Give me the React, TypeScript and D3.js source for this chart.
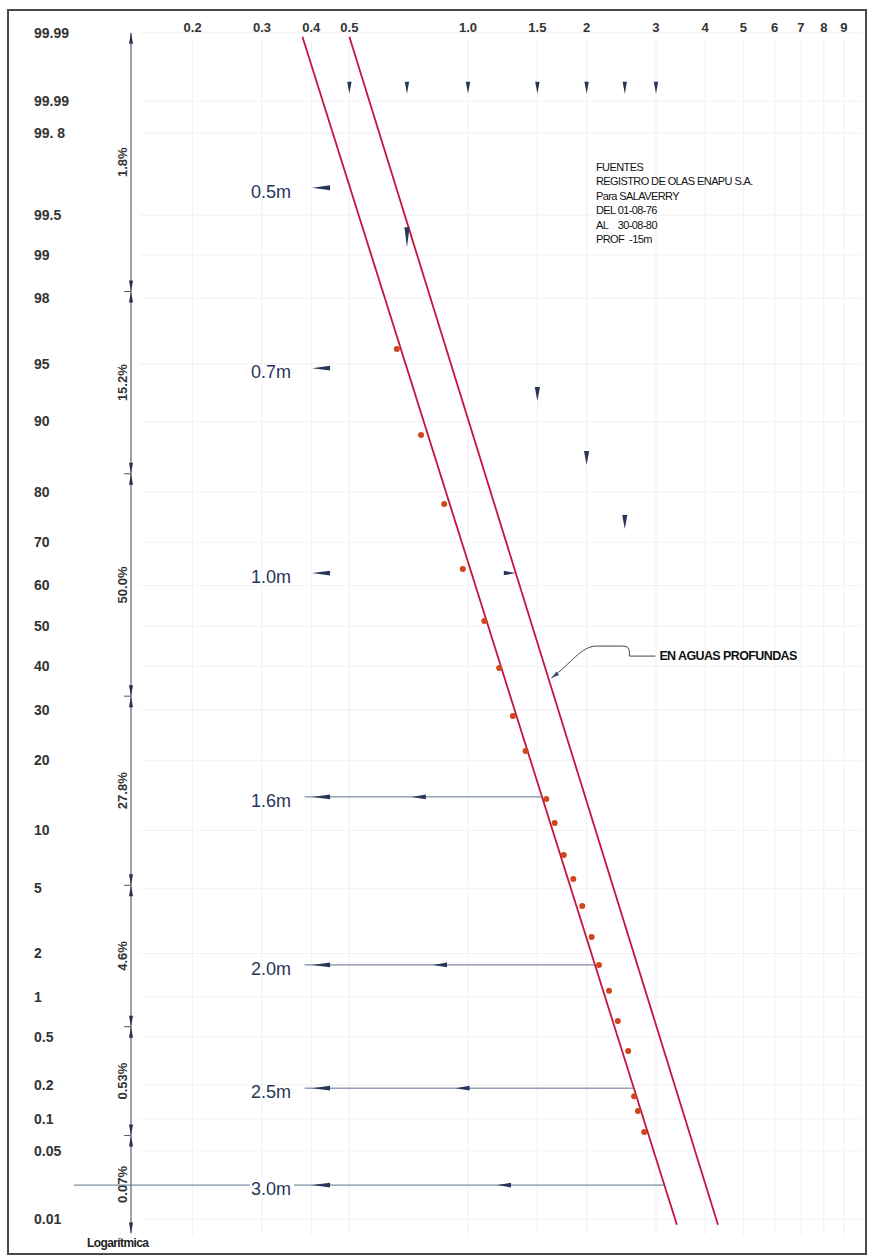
import React from "react";
import * as d3 from "d3";

// wave height (m) on log x, cumulative probability (%) on normal-probability y
const xTicks = [0.2, 0.3, 0.4, 0.5, 1.0, 1.5, 2, 3, 4, 5, 6, 7, 8, 9];
const xTickLabels = ["0.2", "0.3", "0.4", "0.5", "1.0", "1.5", "2", "3", "4", "5", "6", "7", "8", "9"];

const yTicks = [99.99, 99.95, 99.9, 99.5, 99, 98, 95, 90, 80, 70, 60, 50, 40, 30, 20, 10, 5, 2, 1, 0.5, 0.2, 0.1, 0.05, 0.01];
const yTickLabels = ["99.99", "99.99", "99. 8", "99.5", "99", "98", "95", "90", "80", "70", "60", "50", "40", "30", "20", "10", "5", "2", "1", "0.5", "0.2", "0.1", "0.05", "0.01"];

// observed points
const obsHeight = [0.66, 0.76, 0.87, 0.97, 1.1, 1.2, 1.3, 1.4, 1.58, 1.66, 1.75, 1.85, 1.95, 2.06, 2.15, 2.28, 2.4, 2.55, 2.64, 2.7, 2.8];
const obsProb = [95.88, 88.44, 77.78, 63.96, 51.25, 39.62, 28.63, 21.66, 13.9, 10.84, 7.55, 5.64, 3.96, 2.56, 1.68, 1.11, 0.664, 0.385, 0.16, 0.118, 0.0757];

// fitted lines [height, prob]
const shallowLine = [[0.38, 99.989], [3.39, 0.0087]];
const deepLine = [[0.5, 99.989], [4.31, 0.0087]];

// reference heights
const rowLabels = ["0.5m", "0.7m", "1.0m", "1.6m", "2.0m", "2.5m", "3.0m"];
const rowProb = [99.7, 94.7, 63.0, 14.2, 1.68, 0.188, 0.0228];
const rowLineStart = [null, null, null, 0.385, 0.385, 0.385, 0.1];
const rowMidArrow = [null, null, null, 0.72, 0.815, 0.93, 1.185];

// small markers
const topMarkHeight = [0.5, 0.7, 1.0, 1.5, 2.0, 2.5, 3.0];
const topMarkProb = 99.963;
const markHeight = [0.7, 1.5, 2.0, 2.5];
const markProb = [99.26, 92.7, 85.4, 74.3];

// percentage bands on the left
const bandBounds = [99.99, 98.2, 83.0, 33.0, 5.2, 0.6, 0.07, 0.007];
const bandLabels = ["1.8%", "15.2%", "50.0%", "27.8%", "4.6%", "0.53%", "0.07%"];

const sourceLines = ["FUENTES", "REGISTRO DE OLAS ENAPU S.A.", "Para SALAVERRY", "DEL 01-08-76", "AL    30-08-80", "PROF  -15m"];

function probit(p: number): number {
  const a = [-3.969683028665376e1, 2.209460984245205e2, -2.759285104469687e2, 1.38357751867269e2, -3.066479806614716e1, 2.506628277459239];
  const b = [-5.447609879822406e1, 1.615858368580409e2, -1.556989798598866e2, 6.680131188771972e1, -1.328068155288572e1];
  const c = [-7.784894002430293e-3, -3.223964580411365e-1, -2.400758277161838, -2.549732539343734, 4.374664141464968, 2.938163982698783];
  const d = [7.784695709041462e-3, 3.224671290700398e-1, 2.445134137142996, 3.754408661907416];
  const pl = 0.02425;
  if (p < pl) {
    const q = Math.sqrt(-2 * Math.log(p));
    return (((((c[0] * q + c[1]) * q + c[2]) * q + c[3]) * q + c[4]) * q + c[5]) / ((((d[0] * q + d[1]) * q + d[2]) * q + d[3]) * q + 1);
  }
  if (p <= 1 - pl) {
    const q = p - 0.5, r = q * q;
    return ((((((a[0] * r + a[1]) * r + a[2]) * r + a[3]) * r + a[4]) * r + a[5]) * q) / (((((b[0] * r + b[1]) * r + b[2]) * r + b[3]) * r + b[4]) * r + 1);
  }
  const q = Math.sqrt(-2 * Math.log(1 - p));
  return -(((((c[0] * q + c[1]) * q + c[2]) * q + c[3]) * q + c[4]) * q + c[5]) / ((((d[0] * q + d[1]) * q + d[2]) * q + d[3]) * q + 1);
}

const x = d3.scaleLog().domain([0.1, 10]).range([74, 862]);
const zScale = d3.scaleLinear().domain([0, 1]).range([626, 466.5]);
const y = (p: number) => zScale(probit(p / 100));

const xOnLine = (line: number[][], p: number) => {
  const z0 = probit(line[0][1] / 100), z1 = probit(line[1][1] / 100);
  const l0 = Math.log10(line[0][0]), l1 = Math.log10(line[1][0]);
  const t = (probit(p / 100) - z0) / (z1 - z0);
  return x(Math.pow(10, l0 + t * (l1 - l0)));
};

const arrow = (tx: number, ty: number, dx: number, dy: number, len: number, hw: number) => {
  const bx = tx - dx * len, by = ty - dy * len;
  const px = -dy * hw, py = dx * hw;
  return `M${tx},${ty}L${bx + px},${by + py}L${bx - px},${by - py}Z`;
};

const FONT = "Arial, 'Liberation Sans', sans-serif";
const NAVY = "#27365a";
const RED = "#c4153d";

export default function App() {
  const line = d3.line<number[]>().x((d) => x(d[0])).y((d) => y(d[1]));
  const dimX = 131;

  const annP = 37.2;
  const tx = xOnLine(deepLine, annP) + 3;
  const ty = y(annP);

  return (
    <svg width={870} height={1257} style={{ position: "absolute", left: 0, top: 0, background: "#fff" }} fontFamily={FONT}>
      <rect x={0} y={0} width={870} height={1257} fill="#fff" />
      {/* faint grid */}
      {xTicks.map((t, i) => (
        <line key={"gx" + i} x1={x(t)} x2={x(t)} y1={40} y2={1235} stroke="#f0f0f0" />
      ))}
      {yTicks.map((t, i) => (
        <line key={"gy" + i} x1={140} x2={862} y1={y(t)} y2={y(t)} stroke="#f2f2f2" />
      ))}
      <rect x={8} y={10} width={858} height={1244} fill="none" stroke="#4a4a4a" strokeWidth={2} />

      {/* x tick labels */}
      {xTicks.map((t, i) => (
        <text key={"xt" + i} x={x(t)} y={27} dy="0.35em" textAnchor="middle" fontSize={13} fontWeight="bold" fill="#333">
          {xTickLabels[i]}
        </text>
      ))}
      {/* y tick labels */}
      {yTicks.map((t, i) => (
        <text key={"yt" + i} x={34} y={y(t)} dy="0.35em" fontSize={14} fontWeight="bold" fill="#333">
          {yTickLabels[i]}
        </text>
      ))}
      <text x={87} y={1243} dy="0.35em" fontSize={12} fontWeight="bold" letterSpacing={-0.6} fill="#222">
        Logarítmica
      </text>

      {/* percentage dimension line */}
      <line x1={dimX} x2={dimX} y1={y(bandBounds[0])} y2={y(bandBounds[bandBounds.length - 1])} stroke="#3a4258" strokeWidth={1} />
      {bandBounds.map((b, i) => (
        <g key={"bb" + i}>
          {i > 0 && i < bandBounds.length - 1 && (
            <line x1={dimX - 7} x2={dimX} y1={y(b)} y2={y(b)} stroke="#555" strokeWidth={1} />
          )}
          {i > 0 && <path d={arrow(dimX, y(b), 0, 1, 11, 2)} fill="#2a3048" />}
          {i < bandBounds.length - 1 && <path d={arrow(dimX, y(b), 0, -1, 11, 2)} fill="#2a3048" />}
        </g>
      ))}
      {bandLabels.map((l, i) => {
        const my = (y(bandBounds[i]) + y(bandBounds[i + 1])) / 2;
        return (
          <text key={"bl" + i} transform={`translate(${dimX - 9},${my}) rotate(-90)`} textAnchor="middle" dy="0.35em" fontSize={13} fontWeight="bold" fill="#333">
            {l}
          </text>
        );
      })}

      {/* fitted lines */}
      <path d={line(shallowLine) || ""} fill="none" stroke={RED} strokeWidth={1.8} />
      <path d={line(deepLine) || ""} fill="none" stroke={RED} strokeWidth={1.8} />

      {/* reference rows */}
      {rowLabels.map((l, i) => {
        const ry = y(rowProb[i]);
        const start = rowLineStart[i];
        const mid = rowMidArrow[i];
        return (
          <g key={"row" + i}>
            {start !== null && (
              <line x1={x(start)} x2={xOnLine(shallowLine, rowProb[i])} y1={ry} y2={ry} stroke="#5d6f8c" strokeWidth={1} />
            )}
            <path d={arrow(x(0.402), ry, -1, 0, 18, 2.4)} fill={NAVY} />
            {mid !== null && <path d={arrow(x(mid), ry, -1, 0, 14, 2.4)} fill={NAVY} />}
            {i === 6 && <rect x={250} y={ry - 9} width={44} height={18} fill="#fff" />}
            <text x={271} y={ry + 4} dy="0.35em" textAnchor="middle" fontSize={18} fill={NAVY}>
              {l}
            </text>
          </g>
        );
      })}
      <path d={arrow(xOnLine(deepLine, rowProb[2]), y(rowProb[2]), 1, 0, 12, 2.2)} fill={NAVY} />

      {/* small markers */}
      {topMarkHeight.map((h, i) => (
        <path key={"tm" + i} d={arrow(x(h), y(topMarkProb) + 6, 0, 1, 12, 2.2)} fill={NAVY} />
      ))}
      {markHeight.map((h, i) => (
        <path key={"mk" + i} d={arrow(x(h), y(markProb[i]) + (i === 0 ? 10 : 7), 0, 1, i === 0 ? 20 : 14, 2.6)} fill={NAVY} />
      ))}

      {/* observations */}
      {obsHeight.map((h, i) => (
        <circle key={"o" + i} cx={x(h)} cy={y(obsProb[i])} r={3} fill="#d2451c" />
      ))}

      {/* source note */}
      {sourceLines.map((s, i) => (
        <text key={"s" + i} x={596} y={167 + i * 14.5} dy="0.35em" fontSize={11} letterSpacing={-0.6} fill="#111" style={{ whiteSpace: "pre" }}>
          {s}
        </text>
      ))}

      {/* deep water annotation */}
      <path
        d={`M${tx},${ty} C${tx + 20},${ty - 15} ${tx + 30},${ty - 32} ${tx + 45},${ty - 32} L${tx + 72},${ty - 32} Q${tx + 78},${ty - 32} ${tx + 78},${ty - 26} L${tx + 78},${ty - 22} L${tx + 104},${ty - 22}`}
        fill="none"
        stroke="#444"
        strokeWidth={1}
      />
      <path d={arrow(tx, ty, -0.8, 0.6, 8, 2.2)} fill="#3a4a6a" />
      <text x={tx + 108} y={ty - 22} dy="0.35em" fontSize={12.5} fontWeight="bold" letterSpacing={-0.6} fill="#111">
        EN AGUAS PROFUNDAS
      </text>
    </svg>
  );
}
